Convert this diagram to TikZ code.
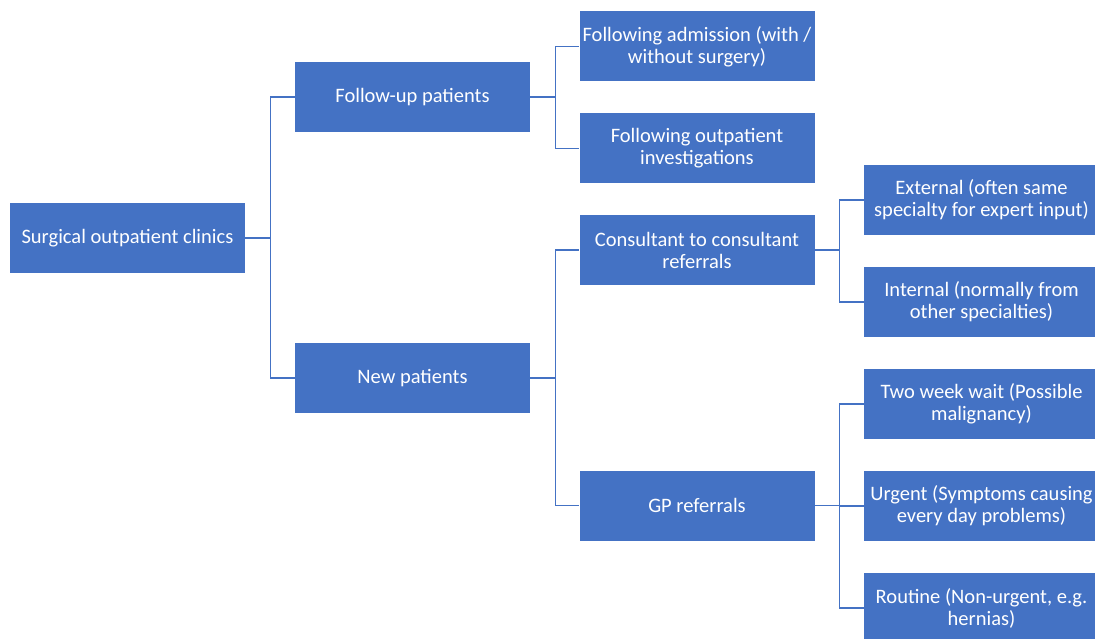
\documentclass[tikz,border=0pt]{standalone}
\usepackage{fontspec}
\setmainfont{Carlito}
\definecolor{boxblue}{HTML}{4472C4}
\tikzset{
  box/.style={fill=boxblue, text=white, minimum width=235pt, minimum height=70pt,
    inner sep=0pt, align=center, font=\fontsize{20.5}{22}\selectfont},
  link/.style={draw=boxblue, line width=1.2pt}
}
\begin{document}
\begin{tikzpicture}[x=1pt,y=-1pt]
  \useasboundingbox (0,0) rectangle (1095,639);
  % level 0
  \node[box] (root) at (127.5,238) {Surgical outpatient clinics};
  % level 1
  \node[box] (fu) at (412.5,97) {Follow-up patients};
  \node[box] (np) at (412.5,378) {New patients};
  % level 2
  \node[box] (fa) at (697,46.5) {Following admission (with /\\without surgery)};
  \node[box] (fo) at (697,148.5) {Following outpatient\\investigations};
  \node[box] (cc) at (697,250) {Consultant to consultant\\referrals};
  \node[box] (gp) at (697,505.5) {GP referrals};
  % level 3
  \node[box] (ex) at (981.5,200) {External (often same\\specialty for expert input)};
  \node[box] (in) at (981.5,302) {Internal (normally from\\other specialties)};
  \node[box] (tw) at (981.5,404) {Two week wait (Possible\\malignancy)};
  \node[box] (ur) at (981.5,506) {Urgent (Symptoms causing\\every day problems)};
  \node[box] (ro) at (981.5,608) {Routine (Non-urgent, e.g.\\hernias)};
  % connectors
  \begin{scope}[link]
    \draw (root.east) -- ++(25,0) |- (fu.west);
    \draw (root.east) -- ++(25,0) |- (np.west);
    \draw (fu.east) -- ++(25,0) |- (fa.west);
    \draw (fu.east) -- ++(25,0) |- (fo.west);
    \draw (np.east) -- ++(25,0) |- (cc.west);
    \draw (np.east) -- ++(25,0) |- (gp.west);
    \draw (cc.east) -- ++(25,0) |- (ex.west);
    \draw (cc.east) -- ++(25,0) |- (in.west);
    \draw (gp.east) -- ++(25,0) |- (tw.west);
    \draw (gp.east) -- ++(25,0) |- (ur.west);
    \draw (gp.east) -- ++(25,0) |- (ro.west);
  \end{scope}
\end{tikzpicture}
\end{document}
